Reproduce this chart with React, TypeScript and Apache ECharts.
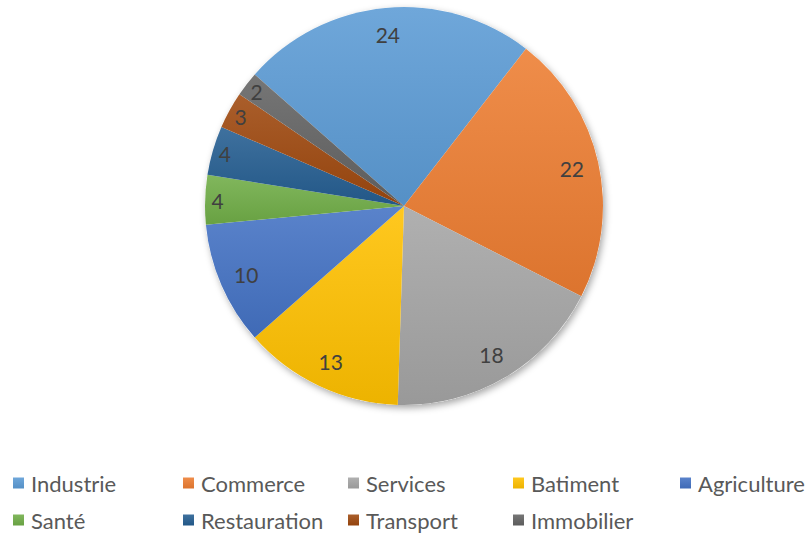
import React, { useEffect, useRef } from "react";
import * as echarts from "echarts";

const categories = ["Industrie", "Commerce", "Services", "Batiment", "Agriculture", "Santé", "Restauration", "Transport", "Immobilier"];
const values = [24, 22, 18, 13, 10, 4, 4, 3, 2];
const colors = ["#5B9BD5", "#ED7D31", "#A5A5A5", "#FFC000", "#4472C4", "#70AD47", "#255E91", "#9E480E", "#636363"];
const outerLabelCats = ["Santé", "Restauration", "Transport", "Immobilier"];
const legendColumns = [
  ["Industrie", "Santé"],
  ["Commerce", "Restauration"],
  ["Services", "Transport"],
  ["Batiment", "Immobilier"],
  ["Agriculture"],
];
const legendLefts = [13, 183, 348, 513, 680];

const FONT = "Lato, 'Noto Sans', sans-serif";

function shade(hex: string, f: number): string {
  const n = parseInt(hex.slice(1), 16);
  let r = (n >> 16) & 255, g = (n >> 8) & 255, b = n & 255;
  const adj = (c: number) => (f >= 0 ? Math.round(c + (255 - c) * f) : Math.round(c * (1 + f)));
  r = adj(r); g = adj(g); b = adj(b);
  return "#" + [r, g, b].map((c) => c.toString(16).padStart(2, "0")).join("");
}

function grad(hex: string) {
  return new echarts.graphic.LinearGradient(0, 0, 0, 1, [
    { offset: 0, color: shade(hex, 0.12) },
    { offset: 1, color: shade(hex, -0.07) },
  ]);
}

export default function App() {
  const ref = useRef<HTMLDivElement>(null);
  useEffect(() => {
    if (!ref.current) return;
    const chart = echarts.init(ref.current, undefined, { renderer: "svg" });
    const center = [404, 206];
    const R = 199;
    const startAngle = 138.6;
    const mainData = categories.map((c, i) => ({
      name: c,
      value: values[i],
      itemStyle: { color: grad(colors[i]) },
    }));
    const labelBase = {
      type: "pie" as const,
      center,
      startAngle,
      clockwise: true,
      silent: true,
      emphasis: { disabled: true },
      itemStyle: { color: "rgba(0,0,0,0)", borderWidth: 0 },
      labelLine: { show: false },
    };
    const labelStyle = {
      position: "inside",
      color: "#404040",
      fontSize: 21,
      fontFamily: FONT,
      formatter: "{c}",
    };
    chart.setOption({
      animation: false,
      backgroundColor: "#ffffff",
      legend: legendColumns.map((col, k) => ({
        orient: "vertical",
        left: legendLefts[k],
        top: 472,
        data: col,
        icon: "rect",
        itemWidth: 11,
        itemHeight: 11,
        itemGap: 15,
        selectedMode: false,
        padding: 0,
        textStyle: {
          color: "#595959",
          fontSize: 22,
          fontFamily: FONT,
          lineHeight: 22,
          padding: [0, 0, 0, 2],
        },
      })),
      series: [
        {
          type: "pie",
          name: "bg",
          center,
          radius: R,
          silent: true,
          emphasis: { disabled: true },
          label: { show: false },
          labelLine: { show: false },
          data: [{ name: "_bg", value: 1 }],
          itemStyle: {
            color: "#ffffff",
            shadowBlur: 7,
            shadowColor: "rgba(0,0,0,0.35)",
            shadowOffsetX: 2,
            shadowOffsetY: 3,
          },
        },
        {
          type: "pie",
          name: "main",
          center,
          radius: R,
          startAngle,
          clockwise: true,
          silent: true,
          emphasis: { disabled: true },
          label: { show: false },
          labelLine: { show: false },
          itemStyle: { borderWidth: 0 },
          data: mainData,
        },
        {
          ...labelBase,
          name: "labelsInner",
          radius: [139, R],
          data: categories.map((c, i) => ({
            name: c,
            value: values[i],
            label: { ...labelStyle, show: !outerLabelCats.includes(c) },
          })),
        },
        {
          ...labelBase,
          name: "labelsOuter",
          radius: [168, R],
          data: categories.map((c, i) => ({
            name: c,
            value: values[i],
            label: { ...labelStyle, show: outerLabelCats.includes(c) },
          })),
        },
      ],
    });
    return () => chart.dispose();
  }, []);
  return (
    <div
      ref={ref}
      style={{ position: "absolute", left: 0, top: 0, width: 808, height: 534 }}
    />
  );
}
